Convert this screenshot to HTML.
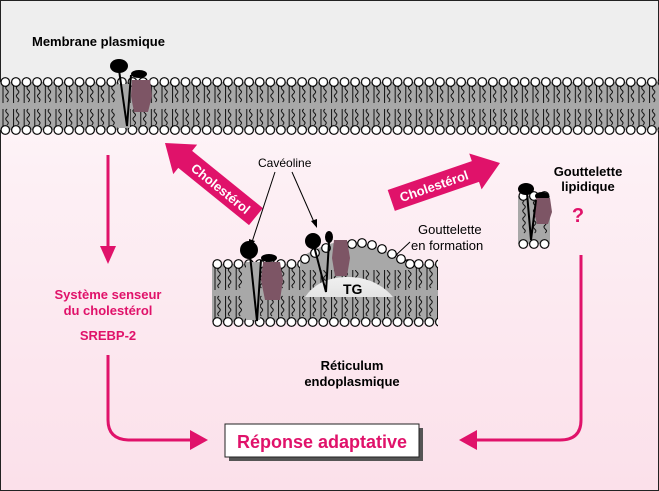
<!DOCTYPE html>
<html><head><meta charset="utf-8"><style>
html,body{margin:0;padding:0;width:659px;height:491px;overflow:hidden}
text{font-family:"Liberation Sans",Arial,sans-serif}
</style></head><body>
<svg width="659" height="491" viewBox="0 0 659 491" xmlns="http://www.w3.org/2000/svg">
<defs>
<linearGradient id="bg" x1="0" y1="0" x2="0" y2="1">
<stop offset="0" stop-color="#ffffff"/><stop offset="0.35" stop-color="#fdf0f5"/><stop offset="1" stop-color="#fbe0ea"/>
</linearGradient>
<linearGradient id="tg" x1="0" y1="0" x2="0" y2="1">
<stop offset="0" stop-color="#f0f0f0"/><stop offset="1" stop-color="#e4e4e4"/>
</linearGradient>
<pattern id="pm" width="10.6" height="58" patternUnits="userSpaceOnUse" patternTransform="translate(0,77)">
<rect x="0" y="5" width="10.6" height="48" fill="#a8a8a8"/>
<path d="M3,9V26M7,9q-2.5,2 0,4q2.5,2 0,4q-2.5,2 0,4q2.5,2 0,4" stroke="#000" stroke-width="0.9" fill="none"/>
<path d="M3,32V49M7,32q-2.5,2 0,4q2.5,2 0,4q-2.5,2 0,4q2.5,2 0,4" stroke="#000" stroke-width="0.9" fill="none"/>
<circle cx="5.3" cy="5" r="4.3" fill="#fff" stroke="#000" stroke-width="1.2"/>
<circle cx="5.3" cy="53" r="4.3" fill="#fff" stroke="#000" stroke-width="1.2"/>
</pattern>
<pattern id="er" width="10.6" height="68" patternUnits="userSpaceOnUse" patternTransform="translate(212,259)">
<rect x="0" y="5" width="10.6" height="58" fill="#a8a8a8"/>
<path d="M3,9V31M7,9q-2.5,2 0,4q2.5,2 0,4q-2.5,2 0,4q2.5,2 0,4q-2.5,2 0,4" stroke="#000" stroke-width="0.9" fill="none"/>
<path d="M3,37V59M7,37q-2.5,2 0,4q2.5,2 0,4q-2.5,2 0,4q2.5,2 0,4q-2.5,2 0,4" stroke="#000" stroke-width="0.9" fill="none"/>
<circle cx="5.3" cy="5" r="4.3" fill="#fff" stroke="#000" stroke-width="1.2"/>
<circle cx="5.3" cy="63" r="4.3" fill="#fff" stroke="#000" stroke-width="1.2"/>
</pattern>
<pattern id="ld" width="10.6" height="68" patternUnits="userSpaceOnUse" patternTransform="translate(518,191)">
<rect x="0" y="5" width="10.6" height="48" fill="#a8a8a8"/>
<path d="M6,10q-2.5,2 0,4q2.5,2 0,4q-2.5,2 0,4q2.5,2 0,4q-2.5,2 0,4q2.5,2 0,4q-2.5,2 0,4q2.5,2 0,4" stroke="#000" stroke-width="0.9" fill="none"/>
<circle cx="5.3" cy="5" r="4.3" fill="#fff" stroke="#000" stroke-width="1.2"/>
<circle cx="5.3" cy="53" r="4.3" fill="#fff" stroke="#000" stroke-width="1.2"/>
</pattern>
</defs>
<rect x="0" y="0" width="659" height="491" fill="url(#bg)"/>
<rect x="0" y="0" width="659" height="80" fill="#eeeeee"/>
<rect x="0.5" y="0.5" width="658" height="490" fill="none" stroke="#222" stroke-width="1"/>

<text x="32" y="46" font-size="13" font-weight="bold">Membrane plasmique</text>

<rect x="0" y="77" width="659" height="58" fill="url(#pm)"/>
<rect x="118" y="84" width="12" height="44" fill="#a8a8a8"/>
<path d="M132,80 L150,80 L152,96 L148,112 L134,112 L131,96Z" fill="#7d5565"/>
<ellipse cx="139" cy="74" rx="8" ry="4" fill="#000"/>
<ellipse cx="119" cy="66" rx="9" ry="7" fill="#000"/>
<path d="M119,70 L127,126 L131,75" stroke="#000" stroke-width="2" fill="none"/>

<line x1="108" y1="155" x2="108" y2="248" stroke="#e0126a" stroke-width="3"/>
<path d="M100,246 L116,246 L108,264Z" fill="#e0126a"/>

<g transform="translate(165,143) rotate(39)">
<path d="M0,0 L26,-19 L26,-11 L117,-11 L117,11 L26,11 L26,19Z" fill="#e0126a"/>
<text x="72" y="5" font-size="13" font-weight="bold" fill="#fff" text-anchor="middle">Cholestérol</text>
</g>
<g transform="translate(500,163) rotate(-19)">
<path d="M0,0 L-26,-19 L-26,-11 L-115,-11 L-115,11 L-26,11 L-26,19Z" fill="#e0126a"/>
<text x="-70" y="5" font-size="13" font-weight="bold" fill="#fff" text-anchor="middle">Cholestérol</text>
</g>

<text x="258" y="167" font-size="12">Cavéoline</text>
<path d="M275,172 L252,242" stroke="#000" stroke-width="1"/>
<path d="M249,248 L249,239 L255,241Z" fill="#000"/>
<path d="M292,172 L314,222" stroke="#000" stroke-width="1"/>
<path d="M317,228 L311,221 L317,219Z" fill="#000"/>

<text x="418" y="234" font-size="13">Gouttelette</text>
<text x="411" y="250" font-size="13">en formation</text>
<path d="M410,242 L395,256" stroke="#000" stroke-width="1"/>
<path d="M391,259 L394,251 L398,255Z" fill="#000"/>

<rect x="212" y="259" width="226" height="68" fill="url(#er)"/>
<path d="M300,270 L300,258 Q330,238 358,242 Q385,246 410,268 L410,270Z" fill="#a8a8a8"/>
<g fill="#fff" stroke="#000" stroke-width="1.2">
<circle cx="305" cy="259" r="4.3"/><circle cx="315" cy="253" r="4.3"/><circle cx="326" cy="248" r="4.3"/>
<circle cx="352" cy="244" r="4.3"/><circle cx="362" cy="243" r="4.3"/><circle cx="372" cy="245" r="4.3"/>
<circle cx="382" cy="249" r="4.3"/><circle cx="392" cy="254" r="4.3"/><circle cx="401" cy="259" r="4.3"/>
<circle cx="410" cy="264" r="4.3"/>
</g>
<path d="M305,297 Q318,278 345,277 Q375,276 393,297Z" fill="url(#tg)"/>
<rect x="246" y="262" width="14" height="58" fill="#a8a8a8"/>
<path d="M263,262 L280,262 L283,280 L280,300 L265,300 L261,280Z" fill="#7d5565"/>
<ellipse cx="269" cy="258" rx="8" ry="4" fill="#000"/>
<circle cx="249" cy="250" r="9" fill="#000"/>
<path d="M250,255 L257,321 L261,260" stroke="#000" stroke-width="2" fill="none"/>
<path d="M334,240 L347,240 L350,258 L347,276 L335,276 L332,258Z" fill="#7d5565"/>
<circle cx="313" cy="241" r="8" fill="#000"/>
<ellipse cx="329" cy="237" rx="4" ry="6" fill="#000"/>
<path d="M314,246 L326,292 L329,242" stroke="#000" stroke-width="2" fill="none"/>
<text x="343" y="294" font-size="14" font-weight="bold">TG</text>

<text x="352" y="370" font-size="13" font-weight="bold" text-anchor="middle">Réticulum</text>
<text x="352" y="386" font-size="13" font-weight="bold" text-anchor="middle">endoplasmique</text>

<rect x="518" y="191" width="32" height="58" fill="url(#ld)"/>
<ellipse cx="526" cy="189" rx="8" ry="6" fill="#000"/>
<ellipse cx="542" cy="196" rx="7" ry="4" fill="#000"/>
<path d="M536,198 L550,198 L552,212 L548,224 L537,224 L534,212Z" fill="#7d5565"/>
<path d="M527,193 L531,240 L536,200" stroke="#000" stroke-width="2" fill="none"/>
<text x="588" y="176" font-size="13" font-weight="bold" text-anchor="middle">Gouttelette</text>
<text x="588" y="191" font-size="13" font-weight="bold" text-anchor="middle">lipidique</text>
<text x="578" y="222" font-size="20" font-weight="bold" fill="#e0126a" text-anchor="middle">?</text>

<text x="108" y="299" font-size="13" font-weight="bold" fill="#e0126a" text-anchor="middle">Système senseur</text>
<text x="108" y="315" font-size="13" font-weight="bold" fill="#e0126a" text-anchor="middle">du cholestérol</text>
<text x="108" y="340" font-size="13" font-weight="bold" fill="#e0126a" text-anchor="middle">SREBP-2</text>

<path d="M108,355 L108,420 Q108,440 130,440 L195,440" stroke="#e0126a" stroke-width="3" fill="none"/>
<path d="M190,430 L208,440 L190,450Z" fill="#e0126a"/>
<path d="M581,255 L581,420 Q581,440 560,440 L472,440" stroke="#e0126a" stroke-width="3" fill="none"/>
<path d="M477,430 L459,440 L477,450Z" fill="#e0126a"/>

<rect x="229" y="428" width="194" height="33" fill="#555"/>
<rect x="225" y="424" width="194" height="33" fill="#fff" stroke="#222" stroke-width="1"/>
<text x="322" y="448" font-size="18" font-weight="bold" fill="#e0126a" text-anchor="middle">Réponse adaptative</text>
</svg>
</body></html>
